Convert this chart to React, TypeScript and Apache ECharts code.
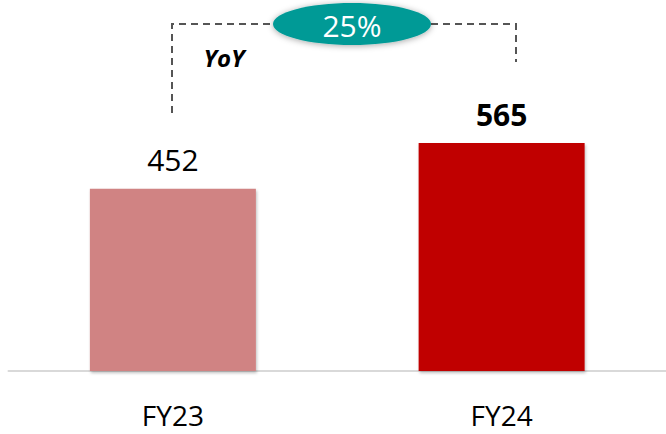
import React, { useEffect, useRef } from "react";
import * as echarts from "echarts";

const categories = ["FY23", "FY24"];
const values = [452, 565];
const barColors = ["#d08383", "#c00000"];
const labelWeights = ["normal", "bold"];
const yoyLabel = "YoY";

export default function App() {
  const ref = useRef<HTMLDivElement>(null);
  useEffect(() => {
    if (!ref.current) return;
    const chart = echarts.init(ref.current, null, { renderer: "svg" });
    const growth = Math.round((values[1] / values[0] - 1) * 100);
    const font = "'Open Sans', 'Noto Sans', sans-serif";
    chart.setOption({
      animation: false,
      grid: { left: 8.5, width: 662, top: 8, bottom: 63 },
      xAxis: {
        type: "category",
        data: categories,
        axisLine: { show: true, lineStyle: { color: "#d9d9d9", width: 2 } },
        axisTick: { show: false },
        axisLabel: { color: "#000", fontSize: 28, fontFamily: font, margin: 30 },
      },
      yAxis: {
        type: "value",
        min: 0,
        max: 900,
        show: false,
        splitLine: { show: false },
      },
      series: [
        {
          type: "bar",
          barWidth: 166,
          data: values.map((v, i) => ({
            value: v,
            itemStyle: {
              color: barColors[i],
              shadowColor: "rgba(0,0,0,0.25)",
              shadowBlur: 3,
              shadowOffsetX: 1,
              shadowOffsetY: 2,
            },
            label: {
              show: true,
              position: "top",
              distance: 14,
              color: "#000",
              fontSize: 30,
              fontWeight: labelWeights[i],
              fontFamily: font,
            },
          })),
        },
      ],
      graphic: [
        {
          type: "polyline",
          shape: { points: [[172, 113], [172, 24], [516, 24], [516, 62]] },
          style: { stroke: "#555", lineWidth: 2, lineDash: [7, 5], fill: null },
        },
        {
          type: "ellipse",
          shape: { cx: 352, cy: 24, rx: 79, ry: 21 },
          style: {
            fill: "#009a96",
            shadowColor: "rgba(0,0,0,0.35)",
            shadowBlur: 6,
            shadowOffsetY: 1,
          },
        },
        {
          type: "text",
          x: 352,
          y: 25,
          style: {
            text: growth + "%",
            fill: "#fff",
            font: `30px ${font}`,
            align: "center",
            verticalAlign: "middle",
          },
        },
        {
          type: "text",
          x: 224,
          y: 57,
          style: {
            text: yoyLabel,
            fill: "#000",
            font: `italic bold 24px ${font}`,
            align: "center",
            verticalAlign: "middle",
          },
        },
      ],
    });
    return () => chart.dispose();
  }, []);
  return (
    <div
      ref={ref}
      style={{ position: "absolute", left: 0, top: 0, width: 666, height: 434, background: "#fff" }}
    />
  );
}
